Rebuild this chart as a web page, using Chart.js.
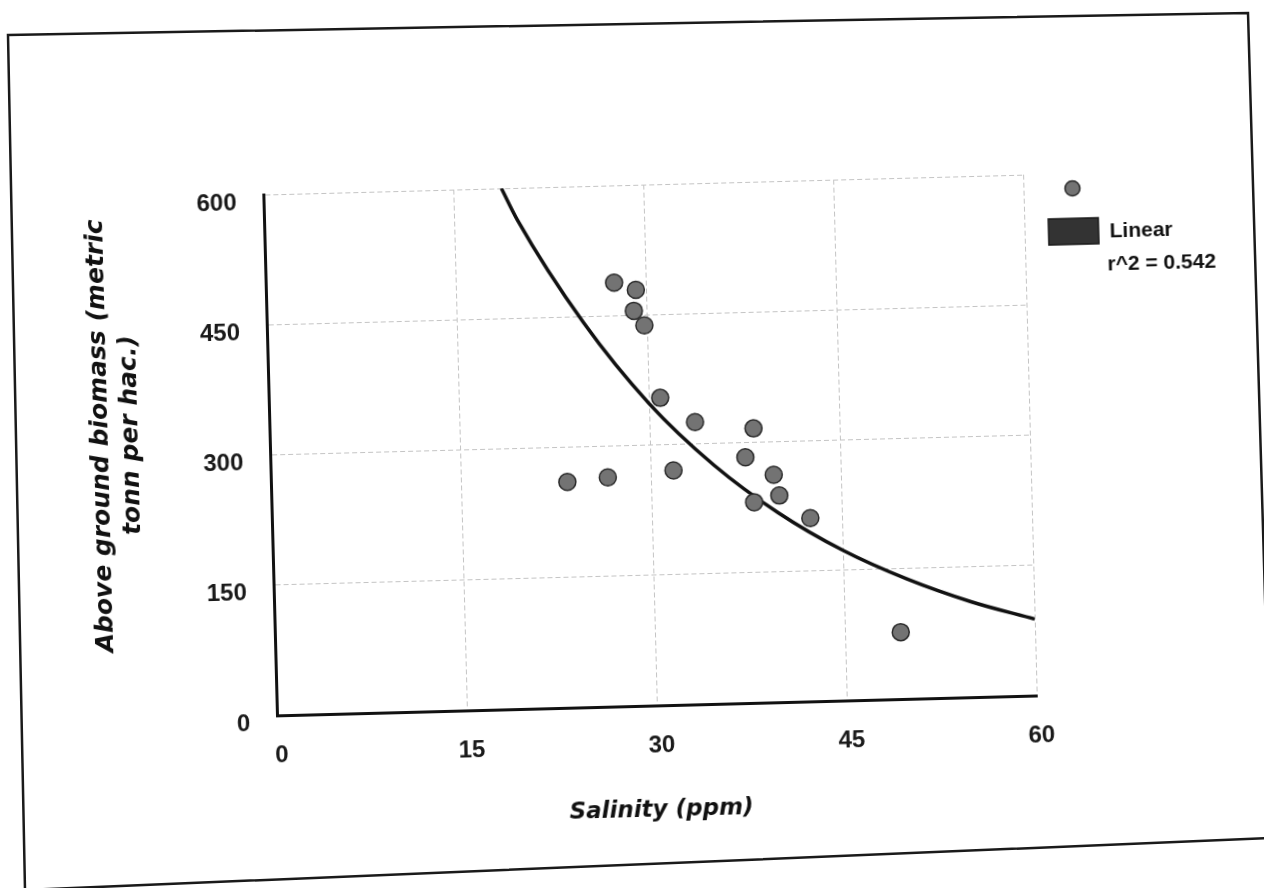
<!DOCTYPE html>
<html lang="en">
<head>
    <meta charset="UTF-8">
    <title>Salinity vs Above ground biomass</title>
    <script src="https://cdn.jsdelivr.net/npm/chart.js"></script>
    <style>
        html, body {
            margin: 0;
            padding: 0;
            background: #fff;
            width: 1264px;
            height: 888px;
            overflow: hidden;
        }
        /* the scanned page sits slightly tilted */
        .page {
            position: absolute;
            left: 0;
            top: 0;
            width: 1264px;
            height: 888px;
            transform: rotate(-1.5deg);
        }
        .frame {
            position: absolute;
            left: 0;
            top: 0;
        }
        #chart {
            position: absolute;
            left: 0;
            top: 0;
        }
    </style>
</head>
<body>
<svg class="frame" width="1264" height="888">
    <polygon points="8,35 1248,13 1272,838 25,890" fill="none" stroke="#1a1a1a" stroke-width="2.5"/>
</svg>
<div class="page">
    <canvas id="chart" width="1264" height="888"></canvas>
</div>

<script>
    // measured points: salinity (ppm) and above ground biomass
    var salinity = [23.4, 26.6, 27.5, 29.2, 29.0, 29.8, 30.9, 31.8, 33.6, 37.5, 38.2, 38.1, 39.7, 40.1, 42.5, 49.4];
    var biomass  = [260, 264, 488, 479, 455, 438, 354, 270, 325, 283, 316, 231, 262, 238, 211, 77];

    // trend curve
    var trendX = [18.8, 20, 25, 30, 35, 40, 45, 50, 55, 60];
    var trendY = [600, 563, 443, 348, 275, 218, 173, 138, 110, 88];

    var xTicks = [0, 15, 30, 45, 60];
    var yTicks = [0, 150, 300, 450, 600];

    var legendLines = ["Linear", "r^2 = 0.542"];
    var xTitle = "Salinity (ppm)";
    var yTitle = ["Above ground biomass (metric", "tonn per hac.)"];

    var pointData = salinity.map(function (x, i) { return {x: x, y: biomass[i]}; });
    var trendData = trendX.map(function (x, i) { return {x: x, y: trendY[i]}; });

    // axis titles and the little legend on the right
    var extrasPlugin = {
        id: "extras",
        afterDraw: function (chart) {
            var ctx = chart.ctx;
            var area = chart.chartArea;
            var pts = chart.data.datasets[0];
            ctx.save();

            // y title, two lines rotated
            ctx.font = 'italic bold 25px "DejaVu Sans"';
            ctx.fillStyle = "#111";
            ctx.textAlign = "center";
            ctx.textBaseline = "middle";
            ctx.translate(116, 422);
            ctx.rotate(-Math.PI / 2);
            ctx.fillText(yTitle[0], 0, -15);
            ctx.fillText(yTitle[1], 0, 15);
            ctx.setTransform(1, 0, 0, 1, 0, 0);

            // x title
            ctx.font = 'italic bold 23px "DejaVu Sans"';
            ctx.fillText(xTitle, 652, 811);

            // legend
            var lx = area.right;
            ctx.beginPath();
            ctx.arc(lx + 49, 200, 7.5, 0, Math.PI * 2);
            ctx.fillStyle = pts.backgroundColor;
            ctx.fill();
            ctx.lineWidth = 1.5;
            ctx.strokeStyle = pts.borderColor;
            ctx.stroke();

            ctx.fillStyle = "#333";
            ctx.fillRect(lx + 24, 230, 50, 26);
            ctx.strokeStyle = "#1a1a1a";
            ctx.strokeRect(lx + 24, 230, 50, 26);

            ctx.font = 'bold 21px "Liberation Sans"';
            ctx.fillStyle = "#111";
            ctx.textAlign = "left";
            ctx.fillText(legendLines[0], lx + 85, 244);
            ctx.fillText(legendLines[1], lx + 82, 277);
            ctx.restore();
        }
    };

    var ctx = document.getElementById("chart").getContext("2d");
    var chart = new Chart(ctx, {
        type: "scatter",
        data: {
            datasets: [{
                label: "",
                data: pointData,
                backgroundColor: "#737373",
                borderColor: "#2a2a2a",
                borderWidth: 1.5,
                pointRadius: 8.5,
                order: 0
            }, {
                label: "Linear",
                data: trendData,
                showLine: true,
                borderColor: "#111111",
                borderWidth: 3.5,
                pointRadius: 0,
                cubicInterpolationMode: "monotone",
                fill: false,
                order: 1
            }]
        },
        options: {
            responsive: false,
            animation: false,
            layout: {
                padding: {left: 0, top: 185, right: 234, bottom: 0}
            },
            plugins: {
                legend: {display: false},
                tooltip: {enabled: false}
            },
            scales: {
                x: {
                    type: "linear",
                    min: 0,
                    max: 60,
                    afterBuildTicks: function (s) { s.ticks = xTicks.map(function (v) { return {value: v}; }); },
                    afterFit: function (s) { s.height = 182; },
                    grid: {color: "#c4c4c4", lineWidth: 1, drawTicks: false},
                    border: {display: true, color: "#111", width: 3, dash: [5, 3]},
                    ticks: {
                        padding: 26,
                        labelOffset: 4,
                        color: "#1a1a1a",
                        font: {family: "Liberation Sans", size: 24, weight: "bold"}
                    }
                },
                y: {
                    min: 0,
                    max: 600,
                    afterBuildTicks: function (s) { s.ticks = yTicks.map(function (v) { return {value: v}; }); },
                    afterFit: function (s) { s.width = 270; },
                    grid: {color: "#c4c4c4", lineWidth: 1, drawTicks: false},
                    border: {display: true, color: "#111", width: 3, dash: [5, 3]},
                    ticks: {
                        padding: 27,
                        labelOffset: 8,
                        color: "#1a1a1a",
                        font: {family: "Liberation Sans", size: 24, weight: "bold"}
                    }
                }
            }
        },
        plugins: [extrasPlugin]
    });
</script>
</body>
</html>
